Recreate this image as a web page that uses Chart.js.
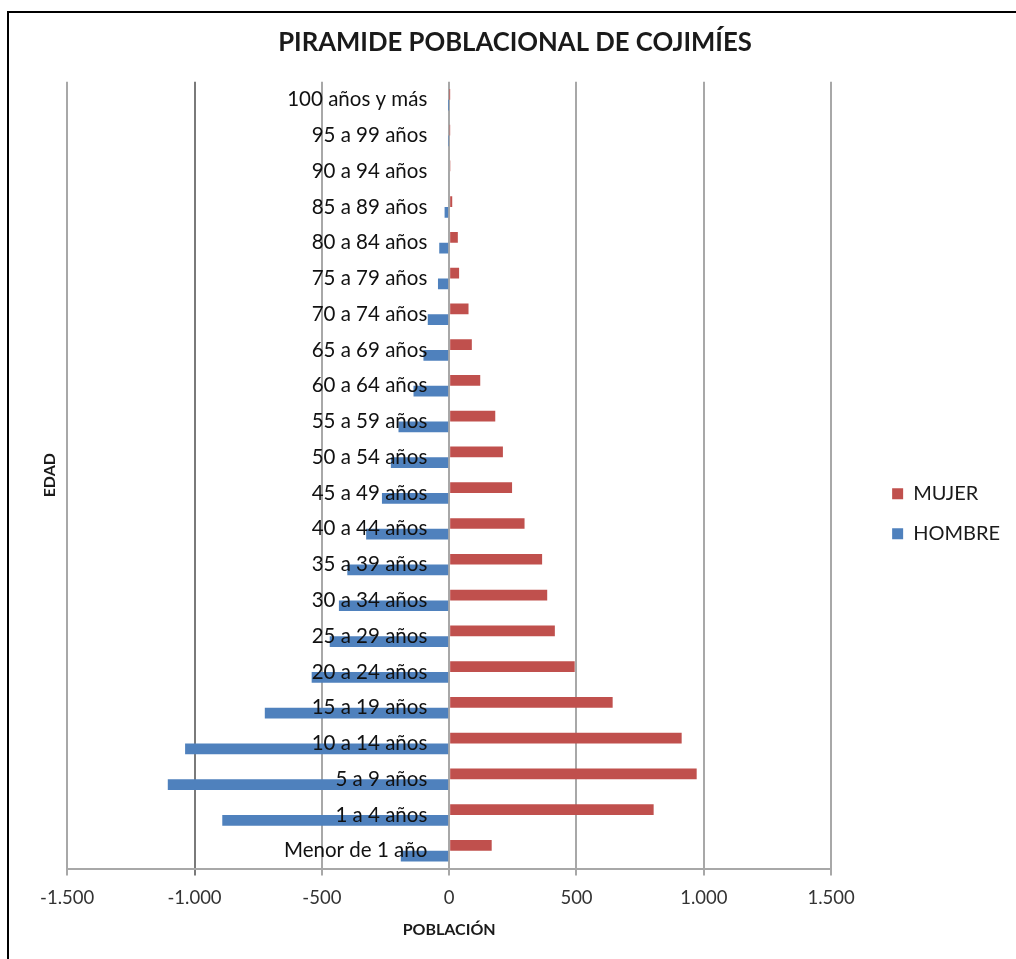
<!DOCTYPE html>
<html>
<head>
<meta charset="utf-8">
<title>Piramide poblacional de Cojimíes</title>
<script src="https://cdn.jsdelivr.net/npm/chart.js@4.4.1/dist/chart.umd.min.js"></script>
<style>
  body { margin: 0; background: #fff; }
  #wrap { position: relative; width: 1016px; height: 959px; }
  #frame {
    position: absolute; left: 7px; top: 11px; right: -10px; bottom: -10px;
    border-left: 2px solid #000; border-top: 2px solid #000;
    pointer-events: none;
  }
</style>
</head>
<body>
<div id="wrap">
  <canvas id="myChart" width="1016" height="959"></canvas>
  <div id="frame"></div>
</div>
<script>
// ---- datos ----
const grupos = [
  "100 años y más", "95 a 99 años", "90 a 94 años", "85 a 89 años",
  "80 a 84 años", "75 a 79 años", "70 a 74 años", "65 a 69 años",
  "60 a 64 años", "55 a 59 años", "50 a 54 años", "45 a 49 años",
  "40 a 44 años", "35 a 39 años", "30 a 34 años", "25 a 29 años",
  "20 a 24 años", "15 a 19 años", "10 a 14 años", "5 a 9 años",
  "1 a 4 años", "Menor de 1 año"
];
const mujer = [1, 2, 5, 12, 34, 39, 76, 89, 122, 181, 211, 247, 296, 365, 385, 415, 493, 642, 913, 972, 803, 167];
const hombre = [-1, -2, -4, -18, -39, -44, -84, -101, -140, -199, -229, -264, -326, -400, -433, -469, -540, -724, -1037, -1105, -891, -190];
const ticksX = ["-1.500", "-1.000", "-500", "0", "500", "1.000", "1.500"];

const fuente = "Lato";
const ctx = document.getElementById("myChart").getContext("2d");

const myChart = new Chart(ctx, {
  type: "bar",
  data: {
    labels: grupos,
    datasets: [
      { label: "MUJER", data: mujer, backgroundColor: "#C0504D" },
      { label: "HOMBRE", data: hombre, backgroundColor: "#4F81BD" },
    ],
  },
  options: {
    indexAxis: "y",
    responsive: false,
    animation: false,
    categoryPercentage: 0.6,
    barPercentage: 1.0,
    layout: { padding: { left: 20, right: 6, top: 0, bottom: 0 } },
    plugins: {
      tooltip: { enabled: false },
      title: {
        display: true,
        text: "PIRAMIDE POBLACIONAL DE COJIMÍES",
        color: "#1a1a1a",
        font: { family: fuente, size: 25.7, weight: "bold" },
        padding: { top: 27, bottom: 24 },
      },
      legend: {
        position: "right",
        title: { display: true, text: "", padding: { top: 54, bottom: 0 } },
        labels: {
          boxWidth: 11,
          boxHeight: 11,
          padding: 20,
          color: "#1a1a1a",
          font: { family: fuente, size: 20 },
        },
      },
    },
    scales: {
      x: {
        min: -1500,
        max: 1500,
        ticks: {
          stepSize: 500,
          color: "#333",
          padding: 11,
          font: { family: fuente, size: 18.5 },
          callback: (v, i) => ticksX[i],
        },
        grid: {
          color: (c) => (c.tick && c.tick.value === -1000 ? "#7a7a7a" : "#a8a8a8"),
          lineWidth: 2,
          tickLength: 7,
        },
        border: { display: true, color: "#a8a8a8", width: 2 },
        title: {
          display: true,
          text: "POBLACIÓN",
          color: "#1a1a1a",
          font: { family: fuente, size: 16, weight: "bold" },
          padding: { top: 0, bottom: 20 },
        },
      },
      y: {
        type: "category",
        position: { x: -86 },
        grid: { display: false },
        border: { display: false },
        ticks: {
          autoSkip: false,
          z: 1,
          color: "#111",
          font: { family: fuente, size: 20.5 },
        },
      },
      // eje vacio solo para el titulo EDAD
      yl: {
        type: "category",
        position: "left",
        grid: { display: false, drawTicks: false },
        border: { display: false },
        ticks: { display: false },
        title: {
          display: true,
          text: "EDAD",
          color: "#1a1a1a",
          font: { family: fuente, size: 16, weight: "bold" },
          padding: { top: 20, bottom: 8 },
        },
      },
      // hueco invisible entre el grafico y la leyenda
      yr: {
        type: "category",
        position: "right",
        display: false,
        afterFit: (s) => {
          s.width = 41;
        },
      },
    },
  },
});
</script>
</body>
</html>
